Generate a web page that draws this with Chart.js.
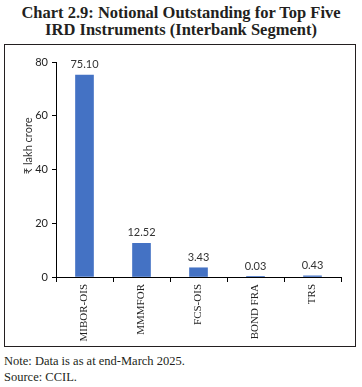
<!DOCTYPE html>
<html>
<head>
<meta charset="utf-8">
<script src="https://cdn.jsdelivr.net/npm/chart.js@4.4.1/dist/chart.umd.min.js"></script>
<style>
  body { margin: 0; background: #fff; width: 362px; height: 387px; position: relative; overflow: hidden; }
  #title { position: absolute; left: 0; top: 4px; width: 362px; text-align: center;
           font: bold 16.5px "Liberation Serif", serif; line-height: 17px; color: #231f20; }
  #box { position: absolute; left: 4px; top: 44px; width: 350px; height: 301px; border: 1.5px solid #231f20; }
  #notes { position: absolute; left: 4px; top: 353px; font: 12.5px "Liberation Serif", serif; line-height: 16px; color: #231f20; }
</style>
</head>
<body>
<div id="title">Chart 2.9: Notional Outstanding for Top Five<br>IRD Instruments (Interbank Segment)</div>
<div id="box"><canvas id="iotChart" width="350" height="301"></canvas></div>
<div id="notes">Note: Data is as at end-March 2025.<br>Source: CCIL.</div>
<script>
const instruments = ['MIBOR-OIS', 'MMMFOR', 'FCS-OIS', 'BOND FRA', 'TRS'];
const outstanding = [75.10, 12.52, 3.43, 0.03, 0.43];
const yTicks = [0, 20, 40, 60, 80];

const ctx = document.getElementById('iotChart').getContext('2d');

// value labels above bars + y axis title
const extras = {
  id: 'extras',
  afterDatasetsDraw(chart) {
    const c = chart.ctx;
    const meta = chart.getDatasetMeta(0);
    c.save();
    c.font = '11px Lato, sans-serif';
    c.fillStyle = '#333';
    c.textAlign = 'center';
    c.textBaseline = 'bottom';
    meta.data.forEach((bar, i) => {
      c.fillText(outstanding[i].toFixed(2), bar.x, bar.y - 5);
    });
    const a = chart.chartArea;
    c.translate(a.left - 28, a.top + (a.bottom - a.top) * 0.39);
    c.rotate(-Math.PI / 2);
    c.textBaseline = 'middle';
    c.fillText('₹ lakh crore', 0, 0);
    c.restore();
  }
};

new Chart(ctx, {
  type: 'bar',
  data: {
    labels: instruments,
    datasets: [{
      data: outstanding,
      backgroundColor: '#4472c4',
      barThickness: 18
    }]
  },
  options: {
    responsive: false,
    animation: false,
    layout: { padding: { top: 17, right: 14, left: 0, bottom: 0 } },
    plugins: { legend: { display: false }, tooltip: { enabled: false } },
    scales: {
      x: {
        grid: { drawOnChartArea: false, offset: true, color: '#000', tickLength: 5 },
        border: { color: '#000', width: 1 },
        ticks: { minRotation: 90, maxRotation: 90, color: '#222', padding: 2,
                 font: { family: 'Liberation Serif', size: 11 } },
        afterFit(scale) { scale.height = 69; }
      },
      y: {
        min: 0, max: 80,
        afterBuildTicks(scale) { scale.ticks = yTicks.map(v => ({ value: v })); },
        grid: { drawOnChartArea: false, color: '#000', tickLength: 4 },
        border: { color: '#000', width: 1 },
        ticks: { color: '#222', padding: 4, font: { family: 'Lato', size: 11 } },
        afterFit(scale) { scale.width = 51; }
      }
    }
  },
  plugins: [extras]
});
</script>
</body>
</html>
